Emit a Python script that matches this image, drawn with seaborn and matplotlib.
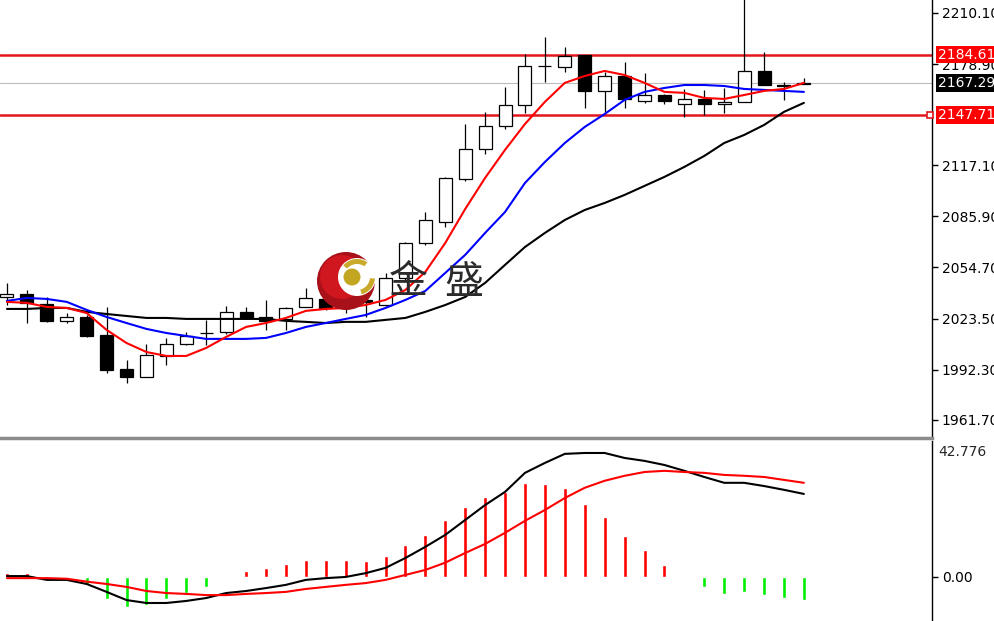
import numpy as np
import pandas as pd
import matplotlib
matplotlib.use("Agg")
import matplotlib.pyplot as plt
import seaborn as sns
from matplotlib.patches import Circle, Wedge
from matplotlib.transforms import IdentityTransform, blended_transform_factory

# -------------------------------
# Candles
# -------------------------------
opens = [2036.7, 2038.6, 2032.5, 2022.1, 2024.5, 2013.6, 1992.8, 1987.9, 2000.7, 2008.0,
         2014.6, 2015.4, 2027.6, 2024.5, 2023.3, 2030.6, 2035.5, 2030.6, 2034.9, 2031.8,
         2048.3, 2069.7, 2082.5, 2108.8, 2127.1, 2141.1, 2153.9, 2177.7, 2177.1, 2184.4,
         2162.4, 2171.6, 2156.3, 2160.2, 2154.5, 2157.6, 2154.5, 2155.8, 2174.7, 2166.1,
         2166.7]
highs = [2045.3, 2041.0, 2036.7, 2027.0, 2025.8, 2030.6, 1998.3, 2008.0, 2011.7, 2015.4,
         2022.7, 2031.2, 2030.6, 2034.9, 2030.6, 2042.2, 2038.0, 2038.6, 2040.0, 2051.4,
         2070.3, 2088.6, 2110.0, 2142.3, 2149.7, 2164.9, 2185.1, 2195.4, 2189.3, 2184.6,
         2174.1, 2180.2, 2173.5, 2160.9, 2163.7, 2163.1, 2164.3, 2225.0, 2186.3, 2168.0,
         2170.4]
lows = [2031.8, 2020.9, 2021.5, 2020.9, 2012.3, 1990.3, 1984.2, 1987.9, 1995.2, 2007.4,
        2007.4, 2014.2, 2023.3, 2016.6, 2016.6, 2030.6, 2028.8, 2026.9, 2024.5, 2031.2,
        2046.5, 2068.5, 2079.4, 2107.6, 2124.0, 2139.3, 2149.1, 2168.0, 2174.1, 2152.1,
        2149.7, 2152.1, 2155.1, 2154.5, 2146.6, 2147.8, 2149.1, 2155.8, 2166.1, 2157.0,
        2166.7]
closes = [2038.6, 2033.1, 2022.1, 2024.5, 2013.0, 1992.2, 1987.9, 2001.3, 2008.0, 2012.9,
          2015.0, 2027.6, 2023.9, 2022.1, 2030.0, 2036.1, 2030.0, 2034.9, 2033.7, 2048.3,
          2069.7, 2083.7, 2109.4, 2127.1, 2141.1, 2153.9, 2177.7, 2178.0, 2183.8, 2162.4,
          2171.6, 2157.6, 2160.2, 2156.3, 2157.6, 2154.5, 2155.8, 2174.7, 2166.1, 2165.5,
          2167.3]

# moving averages
ma_red = [2033.7, 2033.1, 2030.6, 2030.0, 2026.9, 2016.6, 2008.6, 2003.1, 2000.7, 2000.7,
          2005.6, 2012.3, 2018.4, 2020.8, 2023.9, 2028.2, 2029.4, 2030.0, 2031.8, 2034.9,
          2041.0, 2052.0, 2069.7, 2090.4, 2109.4, 2126.5, 2142.3, 2155.8, 2167.4, 2171.6,
          2174.7, 2172.2, 2167.4, 2161.9, 2161.3, 2158.2, 2157.6, 2160.0, 2162.5, 2163.7,
          2167.4]
ma_blue = [2034.3, 2036.1, 2035.5, 2033.7, 2028.8, 2024.5, 2020.8, 2017.2, 2014.7, 2012.9,
           2011.1, 2011.1, 2011.1, 2011.7, 2014.7, 2018.4, 2020.8, 2023.3, 2025.7, 2030.0,
           2034.9, 2040.4, 2051.4, 2062.4, 2075.8, 2088.6, 2106.3, 2119.1, 2130.7, 2140.5,
           2148.4, 2157.0, 2161.9, 2164.3, 2166.1, 2166.1, 2165.5, 2163.7, 2163.1, 2162.5,
           2161.9]
ma_black = [2029.4, 2029.4, 2030.0, 2030.0, 2027.6, 2026.3, 2025.1, 2023.9, 2023.9, 2023.3,
            2023.3, 2023.3, 2023.3, 2023.3, 2022.1, 2021.5, 2020.8, 2021.5, 2021.5, 2022.7,
            2023.9, 2027.6, 2031.8, 2036.7, 2045.3, 2056.3, 2067.2, 2075.8, 2083.7, 2089.8,
            2094.1, 2099.0, 2104.5, 2110.0, 2116.1, 2122.8, 2130.7, 2135.6, 2141.7, 2149.7,
            2155.2]

# MACD panel
macd_dif = [0.3, 0.3, -1.0, -1.0, -2.4, -5.1, -7.9, -8.9, -8.9, -8.2,
            -7.2, -5.5, -4.8, -3.8, -2.7, -1.0, -0.4, 0.0, 1.3, 3.1,
            6.5, 10.3, 14.4, 19.5, 24.6, 29.1, 35.6, 39.0, 42.1, 42.4,
            42.4, 40.7, 39.7, 38.3, 36.3, 34.2, 32.2, 32.2, 31.1, 29.8,
            28.4]
macd_dea = [-0.4, -0.4, -0.4, -0.6, -1.6, -2.4, -3.4, -4.8, -5.5, -5.8,
            -6.2, -6.2, -5.8, -5.5, -5.1, -4.1, -3.4, -2.7, -2.1, -1.0,
            0.7, 2.4, 4.9, 8.2, 11.3, 15.1, 19.2, 22.9, 27.0, 30.5,
            32.9, 34.6, 35.9, 36.3, 35.9, 35.6, 34.9, 34.6, 34.2, 33.2,
            32.2]
macd_hist = [1.4, 1.4, 0.0, 0.0, -2.8, -7.6, -10.3, -9.6, -7.6, -5.4,
             -3.4, 0.4, 2.0, 3.1, 4.5, 5.8, 5.8, 5.8, 5.4, 7.2,
             10.8, 14.4, 19.5, 24.0, 27.4, 29.1, 32.2, 31.8, 30.5, 25.0,
             20.5, 14.0, 9.2, 4.1, 0.5, -3.4, -5.8, -5.1, -6.2, -7.2,
             -7.9]

price_ticks = [2210.10, 2178.90, 2117.10, 2085.90, 2054.70, 2023.50, 1992.30, 1961.70]
level_high = 2184.61
level_low = 2147.71
last_price = 2167.29
macd_top = 42.776

# -------------------------------
# Frame
# -------------------------------
df = pd.DataFrame({"open": opens, "high": highs, "low": lows, "close": closes,
                   "ma_red": ma_red, "ma_blue": ma_blue, "ma_black": ma_black,
                   "dif": macd_dif, "dea": macd_dea, "hist": macd_hist})
df["idx"] = np.arange(len(df))
df["up"] = df["close"] >= df["open"]
df["body_lo"] = df[["open", "close"]].min(axis=1)
df["body_h"] = (df["close"] - df["open"]).abs()

sns.set_style("white")
plt.rcParams["font.family"] = ["DejaVu Sans", "Noto Sans CJK SC"]

W, H = 995, 621
fig = plt.figure(figsize=(W / 100, H / 100), dpi=100)
ax = fig.add_axes([0, (H - 438) / H, 932 / W, 438 / H])
ax2 = fig.add_axes([0, 0, 932 / W, (H - 441) / H])

xlim = (-0.35, 46.43)
fs = 10

# -------------------------------
# Price panel
# -------------------------------
ax.axhline(last_price, color="#bcbcbc", lw=0.8, zorder=1)
ax.axhline(level_high, color="#e3161c", lw=1.8, zorder=1)
ax.axhline(level_low, color="#e3161c", lw=1.8, zorder=1)

ax.vlines(df["idx"], df["low"], df["high"], color="black", lw=0.9, zorder=2)
up = df[df["up"]]
dn = df[~df["up"]]
ax.bar(up["idx"], up["body_h"], bottom=up["body_lo"], width=0.65,
       color="white", edgecolor="black", linewidth=0.9, zorder=3)
ax.bar(dn["idx"], dn["body_h"], bottom=dn["body_lo"], width=0.65,
       color="black", edgecolor="black", linewidth=0.9, zorder=3)

sns.lineplot(data=df, x="idx", y="ma_black", color="black", lw=1.5, ax=ax, zorder=4)
sns.lineplot(data=df, x="idx", y="ma_blue", color="#0000ff", lw=1.5, ax=ax, zorder=4)
sns.lineplot(data=df, x="idx", y="ma_red", color="#ff0000", lw=1.5, ax=ax, zorder=4)

ax.set_xlim(*xlim)
ax.set_ylim(1950.6, 2218.0)
ax.set_xticks([])
ax.set_xlabel("")
ax.set_ylabel("")
ax.yaxis.tick_right()
ax.set_yticks(price_ticks)
ax.set_yticklabels([f"{v:.2f}" for v in price_ticks])
ax.tick_params(axis="y", length=4, width=1, pad=3, labelsize=fs, colors="black")
for s in ["top", "left"]:
    ax.spines[s].set_visible(False)
ax.spines["right"].set_color("black")
ax.spines["right"].set_linewidth(1)
ax.spines["bottom"].set_color("#8c8c8c")
ax.spines["bottom"].set_linewidth(2.5)

tr = blended_transform_factory(ax.transAxes, ax.transData)
for val, bg in [(level_high, "#ff0000"), (last_price, "black"), (level_low, "#ff0000")]:
    ax.text(1.0065, val, f"{val:.2f}", transform=tr, color="white", fontsize=fs,
            va="center", ha="left", zorder=10, clip_on=False,
            bbox=dict(boxstyle="square,pad=0.12", fc=bg, ec="none"))
ax.plot([0.9975], [level_low], marker="s", ms=4, mfc="white", mec="#e3161c",
        mew=1.2, transform=tr, clip_on=False, zorder=6)

# -------------------------------
# MACD panel
# -------------------------------
hist_colors = ["#ff0000" if v >= 0 else "#00ee00" for v in df["hist"]]
ax2.bar(df["idx"], df["hist"], width=0.2, color=hist_colors, zorder=2)
sns.lineplot(data=df, x="idx", y="dif", color="black", lw=1.5, ax=ax2, zorder=3)
sns.lineplot(data=df, x="idx", y="dea", color="#ff0000", lw=1.5, ax=ax2, zorder=3)

ax2.set_xlim(*xlim)
ax2.set_ylim(-15.06, 46.5)
ax2.set_xticks([])
ax2.set_xlabel("")
ax2.set_ylabel("")
ax2.yaxis.tick_right()
ax2.set_yticks([0])
ax2.set_yticklabels(["0.00"])
ax2.tick_params(axis="y", length=4, width=1, pad=3, labelsize=fs, colors="black")
for s in ["top", "left", "bottom"]:
    ax2.spines[s].set_visible(False)
ax2.spines["right"].set_color("black")
ax2.spines["right"].set_linewidth(1)
tr2 = blended_transform_factory(ax2.transAxes, ax2.transData)
ax2.text(1.0065, macd_top, f"{macd_top:.3f}", transform=tr2, fontsize=fs,
         va="center", ha="left", clip_on=False)

# -------------------------------
# Watermark logo (pixel positions)
# -------------------------------
px = IdentityTransform()
fig.add_artist(Circle((346, H - 281), 29, fc="#a8101a", ec="none", transform=px))
fig.add_artist(Circle((342, H - 277), 22, fc="#d0161f", ec="none", transform=px))
fig.add_artist(Circle((357, H - 277), 19, fc="white", ec="none", transform=px))
fig.add_artist(Wedge((357, H - 277), 18, 55, 140, width=5, fc="#c8ab2a", ec="none", transform=px))
fig.add_artist(Wedge((357, H - 277), 18, -75, -5, width=5, fc="#c8ab2a", ec="none", transform=px))
fig.add_artist(Circle((352, H - 277), 8.5, fc="#c2a622", ec="none", transform=px))
fig.text(408, H - 282, "金", transform=px, fontsize=28, color="#2b2b2b",
         family="Noto Sans CJK SC", ha="center", va="center")
fig.text(464, H - 283, "盛", transform=px, fontsize=28, color="#2b2b2b",
         family="Noto Sans CJK SC", ha="center", va="center")

fig.savefig("out.png", dpi=100, facecolor="white")
